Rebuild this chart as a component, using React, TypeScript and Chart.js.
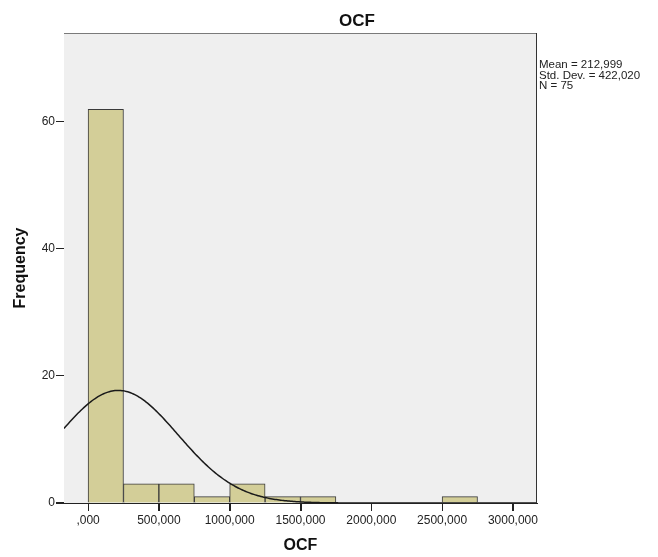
import React, { useEffect, useRef } from "react";
import { Chart, registerables } from "chart.js";

Chart.register(...registerables);

// Histogram bins (lower edges) and frequencies
const binStarts = [0, 250000, 500000, 750000, 1000000, 1250000, 1500000, 1750000, 2000000, 2250000, 2500000, 2750000];
const frequencies = [62, 3, 3, 1, 3, 1, 1, 0, 0, 0, 1, 0];
const BIN_WIDTH = 250000;

// Statistics printed beside the chart (used for the fitted normal curve)
const MEAN = 212999;
const STD_DEV = 422020;
const N = 75;
const statLines = ["Mean = 212,999", "Std. Dev. = 422,020", "N = 75"];

const xTicks = [0, 500000, 1000000, 1500000, 2000000, 2500000, 3000000];
const yTicks = [0, 20, 40, 60];

const X_MIN = -170000;
const X_MAX = 3170000;
const Y_MAX = 74;

const FONT = "'Liberation Sans', Arial, sans-serif";

function normalCurve() {
  const pts: { x: number; y: number }[] = [];
  const scale = (N * BIN_WIDTH) / (STD_DEV * Math.sqrt(2 * Math.PI));
  for (let x = X_MIN; x <= X_MAX; x += 10000) {
    const z = (x - MEAN) / STD_DEV;
    pts.push({ x, y: scale * Math.exp(-0.5 * z * z) });
  }
  return pts;
}

const framePlugin = {
  id: "frame",
  beforeDatasetsDraw(chart: any) {
    const { ctx, chartArea: a } = chart;
    ctx.save();
    ctx.fillStyle = "#efefef";
    ctx.fillRect(a.left, a.top, a.right - a.left, a.bottom - a.top);
    ctx.restore();
  },
  afterDraw(chart: any) {
    const { ctx, chartArea: a, scales } = chart;
    ctx.save();
    ctx.lineWidth = 1;
    ctx.strokeStyle = "#7a7a7a";
    ctx.beginPath();
    ctx.moveTo(a.left, a.top + 0.5);
    ctx.lineTo(a.right, a.top + 0.5);
    ctx.stroke();
    ctx.strokeStyle = "#333333";
    ctx.beginPath();
    ctx.moveTo(a.right - 0.5, a.top);
    ctx.lineTo(a.right - 0.5, a.bottom);
    ctx.stroke();
    // tick marks
    ctx.strokeStyle = "#222222";
    ctx.beginPath();
    xTicks.forEach((v) => {
      const px = Math.round(scales.x.getPixelForValue(v)) + 0.5;
      ctx.moveTo(px, a.bottom);
      ctx.lineTo(px, a.bottom + 8);
    });
    yTicks.forEach((v) => {
      const py = Math.round(scales.y.getPixelForValue(v)) - 0.5;
      ctx.moveTo(a.left - 8, py);
      ctx.lineTo(a.left, py);
    });
    ctx.stroke();
    // title
    ctx.fillStyle = "#111111";
    ctx.font = `bold 17px ${FONT}`;
    ctx.textAlign = "center";
    ctx.textBaseline = "alphabetic";
    ctx.fillText("OCF", 357, 26);
    // stats
    ctx.font = `11.5px ${FONT}`;
    ctx.textAlign = "left";
    ctx.fillStyle = "#222222";
    statLines.forEach((s, i) => ctx.fillText(s, a.right + 2, 68 + i * 10.7));
    ctx.restore();
  },
};

export default function App() {
  const ref = useRef<HTMLCanvasElement | null>(null);
  useEffect(() => {
    if (!ref.current) return;
    const bars = binStarts
      .map((s, i) => ({ x: s + BIN_WIDTH / 2, y: frequencies[i] }))
      .filter((d) => d.y > 0);
    const chart = new Chart(ref.current, {
      type: "bar",
      data: {
        datasets: [
          {
            type: "line",
            data: normalCurve(),
            borderColor: "#1a1a1a",
            borderWidth: 1.5,
            pointRadius: 0,
            fill: false,
            tension: 0,
            order: 0,
          } as any,
          {
            type: "bar",
            data: bars,
            backgroundColor: "#d3ce98",
            borderColor: "#3a3a3a",
            borderWidth: 1,
            barPercentage: 1,
            categoryPercentage: 1,
            grouped: false,
            order: 1,
          } as any,
        ],
      },
      options: {
        responsive: false,
        animation: false,
        layout: { padding: { left: 0, right: 121, top: 33, bottom: 0 } },
        plugins: { legend: { display: false }, tooltip: { enabled: false }, title: { display: false } },
        scales: {
          x: {
            type: "linear",
            offset: false,
            min: X_MIN,
            max: X_MAX,
            afterFit(scale: any) {
              scale.height = 54;
            },
            afterBuildTicks(scale: any) {
              scale.ticks = xTicks.map((v) => ({ value: v }));
            },
            ticks: {
              includeBounds: false,
              autoSkip: false,
              maxRotation: 0,
              padding: 2,
              color: "#222222",
              font: { family: FONT, size: 12 },
              callback: (v: any) => (v === 0 ? ",000" : `${v / 1000},000`),
            },
            grid: { display: true, offset: false, drawOnChartArea: false, drawTicks: true, tickLength: 8, color: "#222222" },
            border: { display: true, color: "#222222", width: 1 },
            title: {
              display: true,
              text: "OCF",
              color: "#111111",
              font: { family: FONT, size: 16, weight: "bold", lineHeight: 1.2 },
              padding: { top: 0, bottom: 1.4 },
            },
          },
          y: {
            type: "linear",
            min: 0,
            max: Y_MAX,
            afterFit(scale: any) {
              scale.width = 64;
            },
            afterBuildTicks(scale: any) {
              scale.ticks = yTicks.map((v) => ({ value: v }));
            },
            ticks: {
              includeBounds: false,
              autoSkip: false,
              padding: 1,
              color: "#222222",
              font: { family: FONT, size: 12 },
            },
            grid: { display: true, drawOnChartArea: false, drawTicks: true, tickLength: 8, color: "#222222" },
            border: { display: true, color: "#222222", width: 1 },
            title: {
              display: true,
              text: "Frequency",
              color: "#111111",
              font: { family: FONT, size: 16, weight: "bold", lineHeight: 1.2 },
              padding: { top: 11.4, bottom: 0 },
            },
          },
        },
      },
      plugins: [framePlugin],
    });
    return () => chart.destroy();
  }, []);
  return (
    <div style={{ position: "absolute", left: 0, top: 0, width: 658, height: 557, background: "#ffffff" }}>
      <canvas ref={ref} width={658} height={557} style={{ display: "block" }} />
    </div>
  );
}
